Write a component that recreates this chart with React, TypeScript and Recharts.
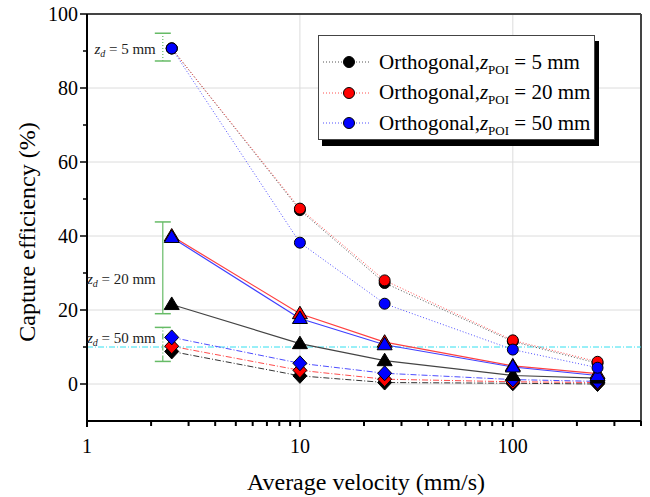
import React from 'react'
import {
  ComposedChart,
  Line,
  Scatter,
  XAxis,
  YAxis,
  ReferenceLine,
  Legend,
} from 'recharts'

// velocities (mm/s) where the runs were made
const velocities = [2.5, 10, 25, 100, 250]

// circles, dotted
const circle5 = [90.7, 47.0, 27.3, 11.5, 5.6]
const circle20 = [90.7, 47.4, 28.0, 11.8, 6.0]
const circle50 = [90.7, 38.2, 21.7, 9.3, 4.4]
// triangles, solid
const tri5 = [21.5, 10.9, 6.3, 2.3, 1.6]
const tri20 = [40.0, 19.0, 11.3, 4.9, 2.8]
const tri50 = [39.6, 17.7, 10.6, 4.6, 2.3]
// diamonds, dash-dot
const dia5 = [8.8, 2.2, 0.4, 0.2, 0.0]
const dia20 = [10.2, 3.7, 1.3, 0.6, 0.4]
const dia50 = [12.6, 5.6, 2.9, 1.2, 0.7]

// z_d range bars on the left
const zdX = 2.27
const zdLabels = ['5 mm', '20 mm', '50 mm']
const zdLow = [87.3, 19.0, 6.1]
const zdHigh = [94.8, 43.8, 15.3]
const zdLabelY = [90.5, 28.5, 12.5]
const zdDash = ['1 2', undefined, '6 2 1 2']

const thresholdY = 10

const xTicks = [1, 2, 3, 4, 5, 6, 7, 8, 9, 10, 20, 30, 40, 50, 60, 70, 80, 90, 100, 200, 300, 400]
const xMajor = [1, 10, 100]
const yTicks = [0, 10, 20, 30, 40, 50, 60, 70, 80, 90, 100]
const yMajor = [0, 20, 40, 60, 80, 100]

const legendLabels = ['5 mm', '20 mm', '50 mm']

const FONT = "'Liberation Serif', 'Times New Roman', serif"
const GREEN = '#66bb66'

type Shape = 'circle' | 'triangle' | 'diamond'

const series: { id: string; values: number[]; fill: string; stroke: string; shape: Shape; dash?: string; width: number }[] = [
  { id: 'dia5', values: dia5, fill: '#000', stroke: '#333', shape: 'diamond', dash: '6 2 1 2', width: 1 },
  { id: 'dia20', values: dia20, fill: '#ff0000', stroke: '#ff4d4d', shape: 'diamond', dash: '6 2 1 2', width: 1 },
  { id: 'dia50', values: dia50, fill: '#0000ff', stroke: '#4d4dff', shape: 'diamond', dash: '6 2 1 2', width: 1 },
  { id: 'tri5', values: tri5, fill: '#000', stroke: '#444', shape: 'triangle', width: 1.2 },
  { id: 'tri20', values: tri20, fill: '#ff0000', stroke: '#ff4040', shape: 'triangle', width: 1.2 },
  { id: 'tri50', values: tri50, fill: '#0000ff', stroke: '#4040ff', shape: 'triangle', width: 1.2 },
  { id: 'c5', values: circle5, fill: '#000', stroke: '#555', shape: 'circle', dash: '1 2', width: 1 },
  { id: 'c20', values: circle20, fill: '#ff0000', stroke: '#ff5050', shape: 'circle', dash: '1 2', width: 1 },
  { id: 'c50', values: circle50, fill: '#0000ff', stroke: '#5050ff', shape: 'circle', dash: '1 2', width: 1 },
]

function marker(shape: Shape, cx: number, cy: number, fill: string, key?: string | number) {
  if (shape === 'circle') {
    return <circle key={key} cx={cx} cy={cy} r={5.5} fill={fill} stroke="#000" strokeWidth={1} />
  }
  if (shape === 'triangle') {
    const pts = `${cx},${cy - 7.5} ${cx - 7.5},${cy + 5} ${cx + 7.5},${cy + 5}`
    return <polygon key={key} points={pts} fill={fill} stroke="#000" strokeWidth={1} />
  }
  const pts = `${cx},${cy - 7.5} ${cx + 7},${cy} ${cx},${cy + 7.5} ${cx - 7},${cy}`
  return <polygon key={key} points={pts} fill={fill} stroke="#000" strokeWidth={1} />
}

function XTick(props: any) {
  const { x, y, payload } = props
  const major = xMajor.includes(payload.value)
  return (
    <g>
      <line x1={x} x2={x} y1={y} y2={y + (major ? 6 : 5)} stroke="#000" strokeWidth={2} />
      {major && (
        <text x={x} y={y + 25} textAnchor="middle" dominantBaseline="central" fontFamily={FONT} fontSize={20} fill="#000">
          {payload.value}
        </text>
      )}
    </g>
  )
}

function YTick(props: any) {
  const { x, y, payload } = props
  const major = yMajor.includes(payload.value)
  return (
    <g>
      <line x1={x - (major ? 7 : 4)} x2={x} y1={y} y2={y} stroke="#000" strokeWidth={1.5} />
      {major && (
        <text x={x - 9} y={y} textAnchor="end" dominantBaseline="central" fontFamily={FONT} fontSize={20} fill="#000">
          {payload.value}
        </text>
      )}
    </g>
  )
}

function LegendBox() {
  const colors = [series[6], series[7], series[8]]
  return (
    <div
      style={{
        width: 277,
        height: 105,
        boxSizing: 'border-box',
        border: '1px solid #444',
        background: '#fff',
        boxShadow: '4px 6px 0 #000',
        fontFamily: FONT,
        fontSize: 21,
        color: '#000',
        paddingTop: 11,
      }}
    >
      {colors.map((s, i) => (
        <div key={s.id} style={{ display: 'flex', alignItems: 'center', height: 30.5, whiteSpace: 'nowrap' }}>
          <svg width={50} height={14} style={{ marginLeft: 4, marginRight: 6 }}>
            <line x1={0} x2={48} y1={7} y2={7} stroke={s.stroke} strokeDasharray="1 2" strokeWidth={1} />
            {marker('circle', 26, 7, s.fill)}
          </svg>
          <span>
            Orthogonal,<i>z</i>
            <span style={{ fontSize: 13, position: 'relative', top: 5 }}>POI</span> = {legendLabels[i]}
          </span>
        </div>
      ))}
    </div>
  )
}

export default function App() {
  const zdCaps = zdLow.flatMap((lo, i) => [
    { x: zdX, y: lo },
    { x: zdX, y: zdHigh[i] },
  ])
  const zdText = zdLabelY.map((y, i) => ({ x: zdX, y, label: zdLabels[i] }))

  return (
    <div style={{ position: 'absolute', left: 0, top: 0, background: '#fff' }}>
      <ComposedChart width={650} height={497} margin={{ top: 14, right: 9, left: 27, bottom: 16 }}>
        <XAxis
          dataKey="x"
          type="number"
          scale="log"
          domain={[1, 400]}
          ticks={xTicks}
          allowDataOverflow
          height={60}
          axisLine={{ stroke: '#000', strokeWidth: 2 }}
          tickLine={false}
          tickSize={0}
          tickMargin={0}
          tick={<XTick />}
          interval={0}
          label={{
            content: () => (
              <text x={366} y={482} textAnchor="middle" dominantBaseline="central" fontFamily={FONT} fontSize={24} fill="#000">
                Average velocity (mm/s)
              </text>
            ),
          }}
        />
        <YAxis
          type="number"
          domain={[-10, 100]}
          ticks={yTicks}
          allowDataOverflow
          width={60}
          axisLine={{ stroke: '#000', strokeWidth: 2 }}
          tickLine={false}
          tickSize={0}
          tickMargin={0}
          tick={<YTick />}
          interval={0}
          label={{
            content: () => (
              <text
                x={27}
                y={232}
                transform="rotate(-90 27 232)"
                textAnchor="middle"
                dominantBaseline="central"
                fontFamily={FONT}
                fontSize={24}
                fill="#000"
              >
                Capture efficiency (%)
              </text>
            ),
          }}
        />

        {/* grid */}
        {[10, 100].map((v) => (
          <ReferenceLine key={`gx${v}`} x={v} stroke="#dcdcdc" strokeWidth={1} />
        ))}
        {yMajor.filter((v) => v < 100).map((v) => (
          <ReferenceLine key={`gy${v}`} y={v} stroke="#dcdcdc" strokeWidth={1} />
        ))}

        {/* frame */}
        <ReferenceLine y={100} stroke="#444" strokeWidth={2} />
        <ReferenceLine x={400} stroke="#444" strokeWidth={2} />

        <ReferenceLine y={thresholdY} stroke="#33e0f0" strokeWidth={1} strokeDasharray="6 2 1 2" />

        {/* z_d bars */}
        {zdLow.map((lo, i) => (
          <ReferenceLine
            key={`zd${i}`}
            segment={[
              { x: zdX, y: lo },
              { x: zdX, y: zdHigh[i] },
            ]}
            stroke={GREEN}
            strokeWidth={1.2}
            strokeDasharray={zdDash[i]}
          />
        ))}
        <Scatter
          data={zdCaps}
          dataKey="y"
          isAnimationActive={false}
          legendType="none"
          shape={(p: any) => <line x1={p.cx - 8} x2={p.cx + 8} y1={p.cy} y2={p.cy} stroke={GREEN} strokeWidth={1.5} />}
        />
        <Scatter
          data={zdText}
          dataKey="y"
          isAnimationActive={false}
          legendType="none"
          shape={(p: any) => (
            <text x={p.cx - 7} y={p.cy} textAnchor="end" dominantBaseline="central" fontFamily={FONT} fontSize={15} fill="#222">
              <tspan fontStyle="italic">z</tspan>
              <tspan fontStyle="italic" fontSize={10} dy={4}>d</tspan>
              <tspan dy={-4}> = {p.payload.label}</tspan>
            </text>
          )}
        />

        {series.map((s) => (
          <Line
            key={s.id}
            data={velocities.map((v, i) => ({ x: v, y: s.values[i] }))}
            dataKey="y"
            type="linear"
            stroke={s.stroke}
            strokeWidth={s.width}
            strokeDasharray={s.dash}
            isAnimationActive={false}
            legendType="none"
            dot={(p: any) => marker(s.shape, p.cx, p.cy, s.fill, `${s.id}-${p.index}`)}
            activeDot={false}
          />
        ))}

        <Legend
          layout="vertical"
          align="center"
          verticalAlign="middle"
          content={() => <LegendBox />}
          wrapperStyle={{ position: 'absolute', left: 318, top: 35, width: 'auto', height: 'auto' }}
        />
      </ComposedChart>
    </div>
  )
}
